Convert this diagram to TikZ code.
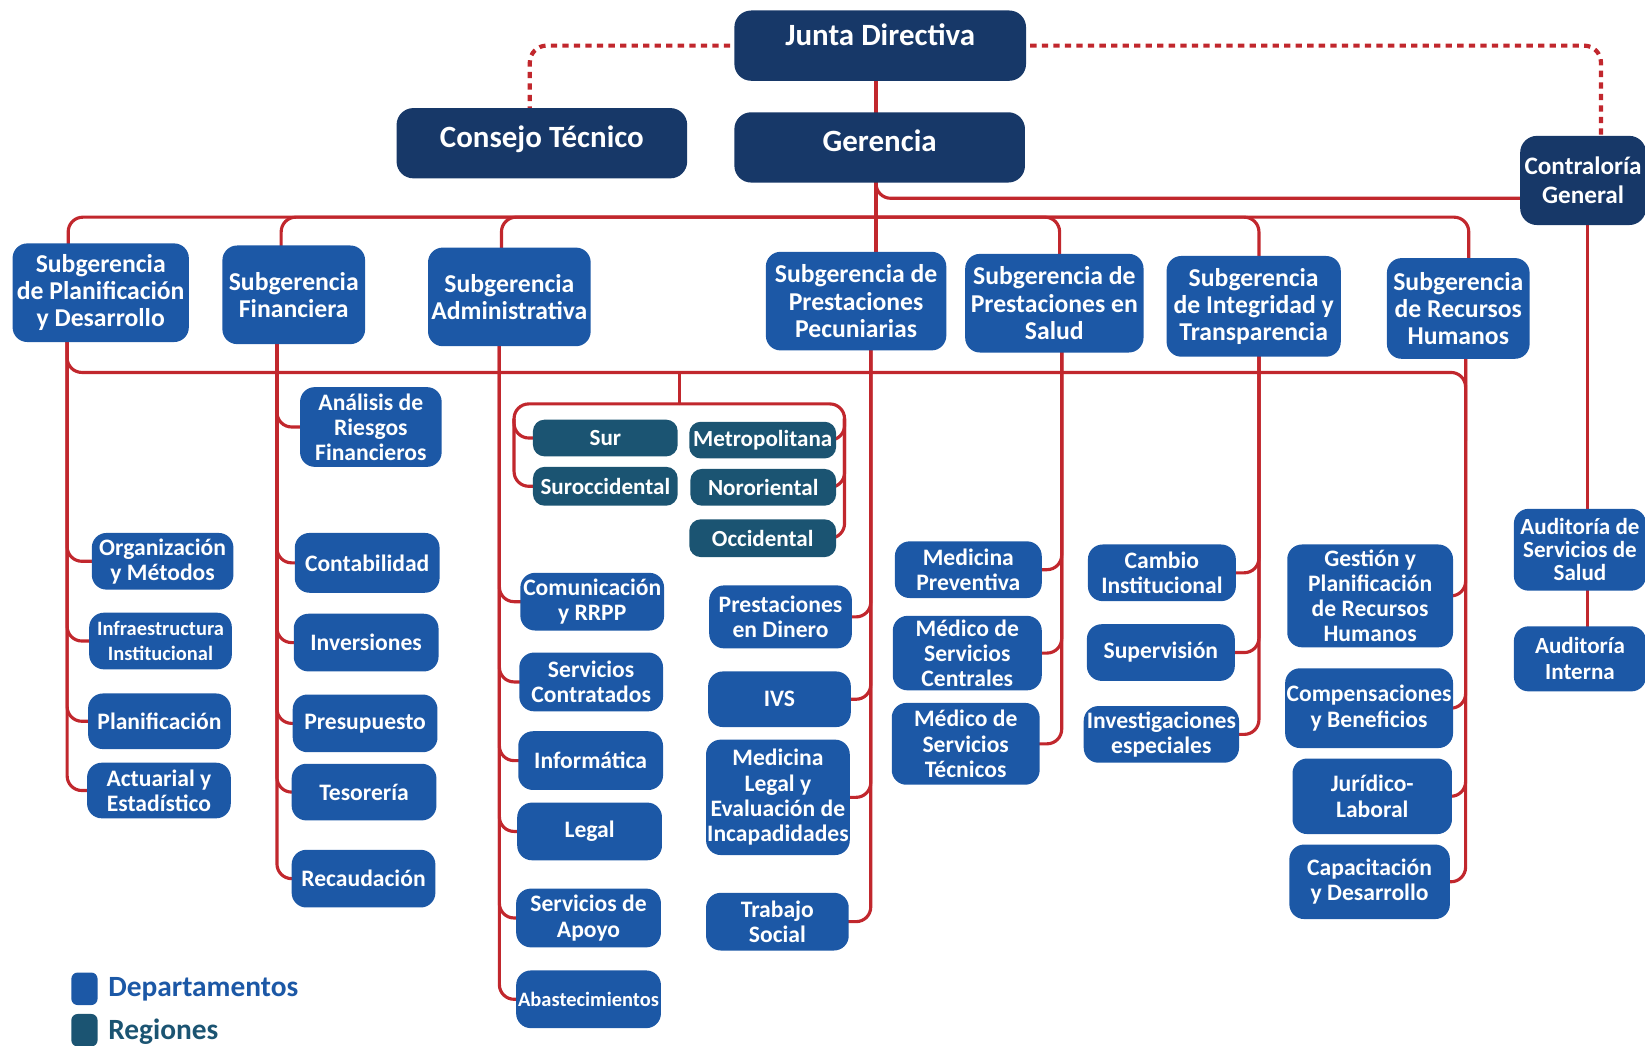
\documentclass[tikz,border=0pt]{standalone}
\usepackage{fontspec}
\setmainfont{Carlito}
\usetikzlibrary{calc}
\pgfdeclarelayer{bg}
\pgfsetlayers{bg,main}
\definecolor{navy}{RGB}{23,56,104}
\definecolor{deptblue}{RGB}{28,88,166}
\definecolor{regteal}{RGB}{27,84,114}
\definecolor{linered}{RGB}{193,39,45}
\tikzset{
  box/.style={rounded corners=14pt, text=white, align=center, inner sep=0pt, font=\bfseries\fontsize{22.5}{24}\selectfont},
  topbox/.style={box, fill=navy, rounded corners=16pt, font=\bfseries\fontsize{29.5}{32}\selectfont, text height=21pt, text depth=21pt},
  lowtext/.style={text height=25pt, text depth=17pt},
  contrbox/.style={box, fill=navy, rounded corners=16pt, font=\bfseries\fontsize{24}{28}\selectfont},
  sub/.style={box, fill=deptblue, font=\bfseries\fontsize{24.5}{26}\selectfont},
  dept/.style={box, fill=deptblue},
  small/.style={font=\bfseries\fontsize{19.5}{24}\selectfont},
  region/.style={box, fill=regteal, rounded corners=11pt, font=\bfseries\fontsize{22}{24}\selectfont},
  link/.style={draw=linered, line width=3pt, rounded corners=14pt},
  dotlink/.style={draw=linered, line width=4pt, dash pattern=on 6pt off 5pt, rounded corners=16pt},
  sz/.style 2 args={minimum width=#1pt, minimum height=#2pt},
  legtext/.style={anchor=west, inner sep=0pt, font=\bfseries\fontsize{28}{30}\selectfont}
}
\begin{document}
\begin{tikzpicture}[x=1pt,y=-1pt]
\useasboundingbox (0,0) rectangle (1568,997);
\clip (0,0) rectangle (1568,997);

% top level
\node[topbox, sz={278}{67}] (junta) at (839,43.5) {Junta Directiva};
\node[topbox, lowtext, sz={277}{67}] (consejo) at (516.5,136.5) {Consejo Técnico};
\node[topbox, lowtext, sz={277}{67}] (ger) at (838.5,140.5) {Gerencia};
\node[contrbox, sz={120}{85}] (contr) at (1509,172) {Contraloría\\General};

% subgerencias
\node[sub, sz={168}{94}] (sgplan) at (96,279) {Subgerencia\\de Planificación\\y Desarrollo};
\node[sub, sz={136}{94}] (sgfin) at (280,281) {Subgerencia\\Financiera};
\node[sub, sz={155}{94}] (sgadm) at (485.5,283) {Subgerencia\\Administrativa};
\node[sub, sz={172}{94}] (sgpec) at (816,287) {Subgerencia de\\Prestaciones\\Pecuniarias};
\node[sub, sz={170}{94}] (sgsal) at (1005,289) {Subgerencia de\\Prestaciones en\\Salud};
\node[sub, sz={166}{96}] (sgint) at (1195,292) {Subgerencia\\de Integridad y\\Transparencia};
\node[sub, sz={136}{96}] (sgrh) at (1390,294) {Subgerencia\\de Recursos\\Humanos};

% column 1
\node[dept, sz={135}{54}] (org) at (155,535) {Organización\\y Métodos};
\node[dept, small, sz={136}{54}] (infra) at (153,611) {Infraestructura\\Institucional};
\node[dept, sz={136}{53}] (planif) at (152,687.5) {Planificación};
\node[dept, sz={137}{53}] (actu) at (151.5,753.5) {Actuarial y\\Estadístico};

% column 2
\node[dept, sz={135}{76}] (riesgos) at (353.5,407) {Análisis de\\Riesgos\\Financieros};
\node[dept, sz={138}{57}] (conta) at (350,536.5) {Contabilidad};
\node[dept, sz={138}{55}] (inver) at (349,612.5) {Inversiones};
\node[dept, sz={138}{55}] (presu) at (348,689.5) {Presupuesto};
\node[dept, sz={138}{54}] (teso) at (347,755) {Tesorería};
\node[dept, sz={137}{55}] (recau) at (346.5,837.5) {Recaudación};

% column 3
\node[dept, sz={137}{55}] (comu) at (564.5,573.5) {Comunicación\\y RRPP};
\node[dept, sz={137}{56}] (servc) at (563.5,650) {Servicios\\Contratados};
\node[dept, sz={138}{56}] (info) at (563,725) {Informática};
\node[dept, sz={138}{55}] (legal) at (562,792.5) {Legal};
\node[dept, sz={138}{56}] (apoyo) at (561,875) {Servicios de\\Apoyo};
\node[dept, small, sz={138}{55}] (abast) at (561,952.5) {Abastecimientos};

% column 4
\node[dept, sz={136}{60}] (dinero) at (744,588) {Prestaciones\\en Dinero};
\node[dept, sz={136}{53}] (ivs) at (743,666.5) {IVS};
\node[dept, sz={137}{110}] (medleg) at (741.5,760) {Medicina\\Legal y\\Evaluación de\\Incapadidades};
\node[dept, sz={136}{55}] (trabajo) at (741,878.5) {Trabajo\\Social};

% column 5
\node[dept, sz={140}{54}] (medprev) at (923,543) {Medicina\\Preventiva};
\node[dept, sz={142}{71}] (mcent) at (922,622.5) {Médico de\\Servicios\\Centrales};
\node[dept, sz={141}{78}] (mtec) at (920.5,709) {Médico de\\Servicios\\Técnicos};

% column 6
\node[dept, sz={141}{54}] (cambio) at (1107.5,546) {Cambio\\Institucional};
\node[dept, sz={141}{54}] (superv) at (1106.5,622) {Supervisión};
\node[dept, sz={148}{54}] (invest) at (1107,700) {Investigaciones\\especiales};

% column 7
\node[dept, sz={158}{98}] (gestion) at (1306,568) {Gestión y\\Planificación\\de Recursos\\Humanos};
\node[dept, sz={160}{76}] (compen) at (1305,675) {Compensaciones\\y Beneficios};
\node[dept, sz={152}{72}] (juridico) at (1308,759) {Jurídico-\\Laboral};
\node[dept, sz={153}{71}] (capac) at (1305.5,840.5) {Capacitación\\y Desarrollo};

% column 8
\node[dept, sz={126}{78}, font=\bfseries\fontsize{22}{22}\selectfont] (audsal) at (1506,524) {Auditoría de\\Servicios de\\Salud};
\node[dept, sz={126}{62}, font=\bfseries\fontsize{22}{25}\selectfont] (audint) at (1506,628) {Auditoría\\Interna};

% regions
\node[region, sz={138}{35}] (sur) at (577,417.5) {Sur};
\node[region, sz={140}{35}] (metro) at (727,419.5) {Metropolitana};
\node[region, sz={138}{37}] (suroc) at (577,463.5) {Suroccidental};
\node[region, sz={139}{35}] (noro) at (727.5,464.5) {Nororiental};
\node[region, sz={140}{36}] (occ) at (727,513) {Occidental};

% legend
\node[fill=deptblue, rounded corners=6pt, sz={25}{31}, inner sep=0pt] (legdep) at (80.5,942.5) {};
\node[legtext, text=deptblue] (legdeptxt) at (103,943) {Departamentos};
\node[fill=regteal, rounded corners=6pt, sz={25}{31}, inner sep=0pt] (legreg) at (80.5,982) {};
\node[legtext, text=regteal] (legregtxt) at (103,983) {Regiones};

% junctions
\coordinate (hub1) at (835,207);
\coordinate (hub2) at (835,355);
\coordinate (rg) at (648,385);

\begin{pgfonlayer}{bg}
  % dotted advisory lines
  \draw[dotlink] (junta.center) -| (505,0 |- consejo.center);
  \draw[dotlink] (junta.center) -| (1526,0 |- contr.center);
  % trunk
  \draw[link] (835,0 |- junta.center) -- (835,0 |- sgpec.center);
  \draw[link] (835,0 |- ger.center) |- (contr.center |- 0,189);
  % main bus
  \draw[link] (hub1) -| (65,0 |- sgplan.center);
  \draw[link] (hub1) -| (268,0 |- sgfin.center);
  \draw[link] (hub1) -| (478,0 |- sgadm.center);
  \draw[link] (hub1) -| (1010,0 |- sgsal.center);
  \draw[link] (hub1) -| (1200,0 |- sgint.center);
  \draw[link] (hub1) -| (1400,0 |- sgrh.center);
  % second bus
  \draw[link] (64,0 |- sgplan.center) |- (hub2);
  \draw[link] (hub2) -| (1397,420);
  % column 1
  \foreach \c in {org,infra,planif,actu}{\draw[link] (64,0 |- sgplan.center) |- (\c.center);}
  % column 2
  \foreach \c in {riesgos,conta,inver,presu,teso,recau}{\draw[link] (264,0 |- sgfin.center) |- (\c.center);}
  % column 3
  \foreach \c in {comu,servc,info,legal,apoyo,abast}{\draw[link] (476,0 |- sgadm.center) |- (\c.center);}
  % column 4
  \foreach \c in {dinero,ivs,medleg,trabajo}{\draw[link] (830,0 |- sgpec.center) |- (\c.center);}
  % column 5
  \foreach \c in {medprev,mcent,mtec}{\draw[link] (1012,0 |- sgsal.center) |- (\c.center);}
  % column 6
  \foreach \c in {cambio,superv,invest}{\draw[link] (1200,0 |- sgint.center) |- (\c.center);}
  % column 7
  \foreach \c in {gestion,compen,juridico,capac}{\draw[link] (1397,0 |- sgrh.center) |- (\c.center);}
  % column 8
  \draw[link] (1513,0 |- contr.center) -- (1513,0 |- audint.center);
  % regions
  \draw[link] (648,0 |- hub2) -- (rg);
  \draw[link] (rg) -| (490,0 |- suroc.center) -- (suroc.center);
  \draw[link] (490,399) |- (sur.center);
  \draw[link] (rg) -| (805,0 |- occ.center) -- (occ.center);
  \draw[link] (805,399) |- (metro.center);
  \draw[link] (805,399) |- (noro.center);
\end{pgfonlayer}
\end{tikzpicture}
\end{document}
